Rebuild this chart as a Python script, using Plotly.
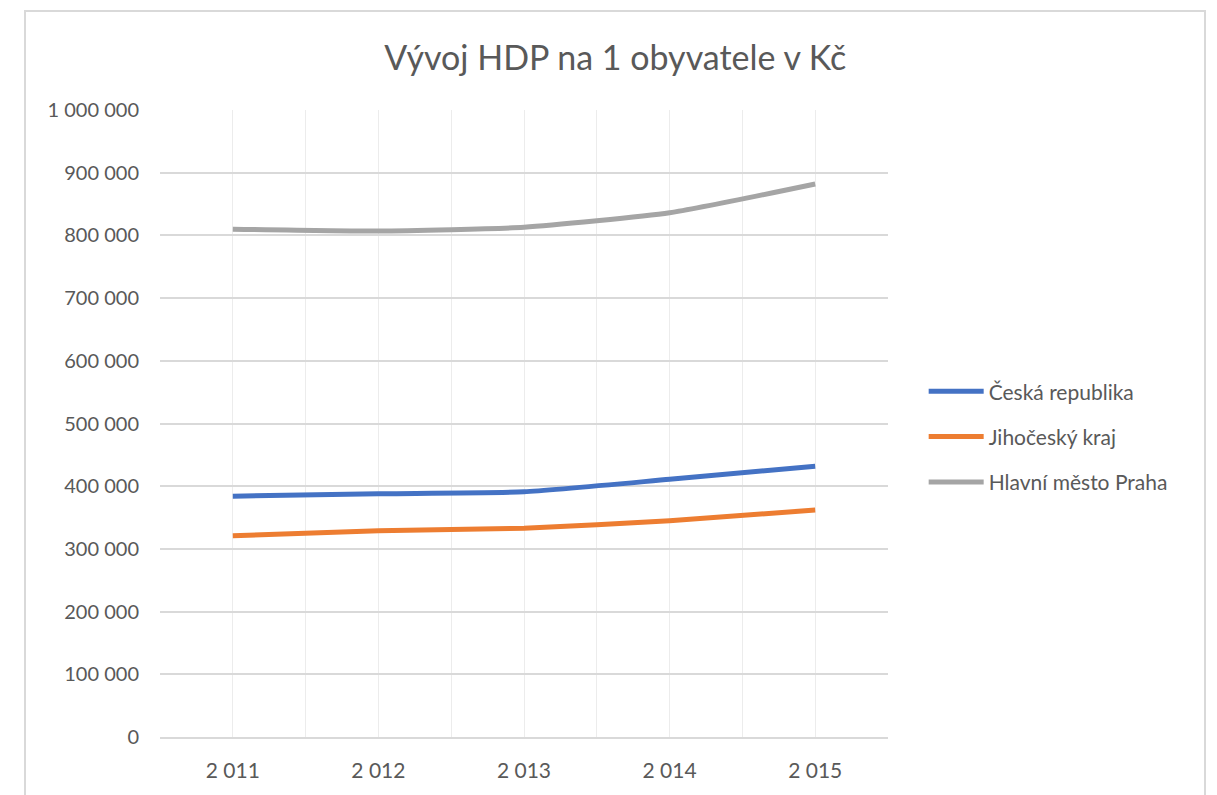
import plotly.graph_objects as go

# data
years = [2011, 2012, 2013, 2014, 2015]
year_labels = ["2 011", "2 012", "2 013", "2 014", "2 015"]
cr = [384000, 388000, 391000, 411000, 432000]
jihocesky = [321000, 329000, 333000, 345000, 362000]
praha = [810000, 807000, 813000, 836000, 882000]

series = [
    ("Česká republika", cr, "#4472C4"),
    ("Jihočeský kraj", jihocesky, "#ED7D31"),
    ("Hlavní město Praha", praha, "#A5A5A5"),
]

fig = go.Figure()
for i, (name, vals, col) in enumerate(series):
    fig.add_trace(go.Scatter(
        x=years, y=vals, name=name, mode="lines",
        line=dict(color=col, width=5, shape="spline", smoothing=0.5),
        legendgroup="g%d" % i,
    ))

font = "Lato, 'Open Sans', sans-serif"

fig.update_layout(
    width=1217, height=795,
    margin=dict(l=152, r=337, t=102, b=66),
    paper_bgcolor="white", plot_bgcolor="white",
    separators=", ",
    font=dict(family=font, size=20, color="#595959"),
    title=dict(text="Vývoj HDP na 1 obyvatele v Kč", x=0.499, xanchor="center",
               y=1 - 50 / 795, yanchor="middle",
               font=dict(size=34, color="#595959", family=font)),
    showlegend=True,
    legend=dict(x=1.049, xanchor="left", y=0.479, yanchor="middle",
                tracegroupgap=15, itemwidth=55,
                font=dict(size=21, color="#595959"),
                bgcolor="rgba(0,0,0,0)"),
    xaxis=dict(
        range=[2010.5, 2015.5], tickvals=years, ticktext=year_labels,
        showgrid=True, gridcolor="#ececec", gridwidth=1,
        minor=dict(dtick=0.5, tick0=2010.5, showgrid=True,
                   gridcolor="#ececec", gridwidth=1),
        showline=True, linecolor="#d9d9d9", linewidth=2,
        ticks="", ticklabelstandoff=14, zeroline=False,
        tickfont=dict(size=21),
    ),
    yaxis=dict(
        range=[0, 1000000], dtick=100000, tickformat=",d",
        showgrid=True, gridcolor="#d9d9d9", gridwidth=2,
        zeroline=False, showline=False, ticks="",
        ticklabelstandoff=20,
    ),
    shapes=[dict(type="rect", xref="paper", yref="paper",
                 x0=-135 / 728, x1=1045 / 728, y0=-80 / 627, y1=726 / 627,
                 line=dict(color="#d9d9d9", width=2), layer="below")],
)

fig.write_html("out.html")
